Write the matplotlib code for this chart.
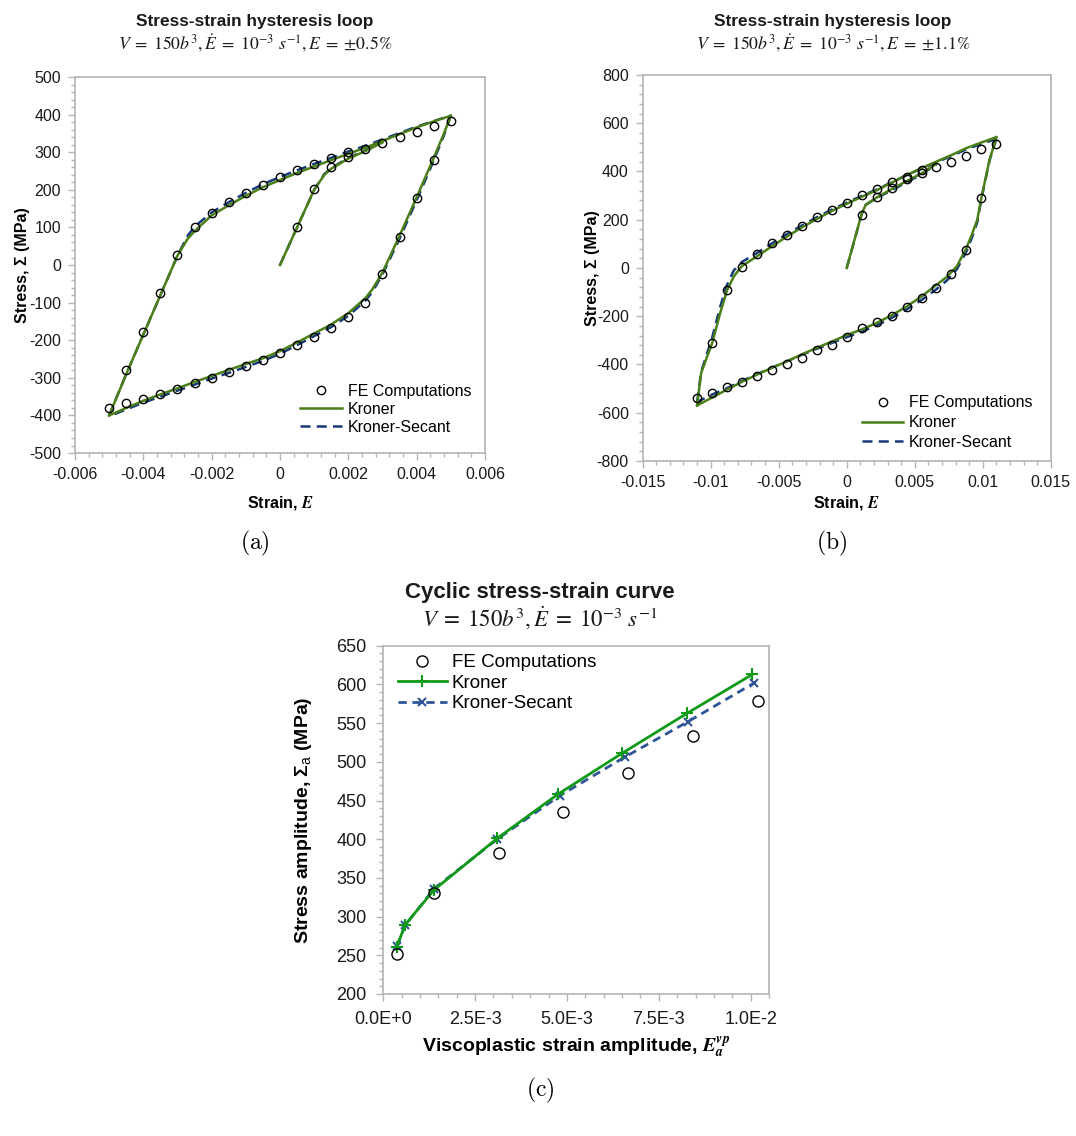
import matplotlib
matplotlib.use('Agg')
import matplotlib.pyplot as plt
from matplotlib.ticker import MultipleLocator, FuncFormatter, FixedLocator, FixedFormatter

plt.rcParams['font.family'] = ['Liberation Sans', 'DejaVu Sans']
plt.rcParams['mathtext.fontset'] = 'custom'
plt.rcParams['mathtext.rm'] = 'Liberation Sans'
plt.rcParams['mathtext.bf'] = 'Liberation Sans:bold'
plt.rcParams['mathtext.it'] = 'Liberation Sans:italic'
plt.rcParams['axes.unicode_minus'] = False

GREEN = '#4B7F17'
NAVY = '#17397A'
GREEN_C = '#119A1A'
BLUE_C = '#2E5597'
AXIS_GREY = '#B4B4B4'
TEXT = '#1A1A1A'

# Panel (a) : E = +/-0.5%
##################################################################
fe_a_mono_x = [0.0005, 0.001, 0.0015, 0.002]
fe_a_mono_y = [100, 203, 260, 287]
fe_a_down_x = [0.005, 0.0045, 0.004, 0.0035, 0.003, 0.0025, 0.002, 0.0015, 0.001, 0.0005, 0.0,
               -0.0005, -0.001, -0.0015, -0.002, -0.0025, -0.003, -0.0035, -0.004, -0.0045, -0.005]
fe_a_down_y = [382, 279, 178, 75, -25, -100, -139, -167, -191, -214, -235,
               -253, -269, -285, -300, -314, -330, -343, -356, -368, -381]
fe_a_up_x = [-0.0045, -0.004, -0.0035, -0.003, -0.0025, -0.002, -0.0015, -0.001, -0.0005, 0.0,
             0.0005, 0.001, 0.0015, 0.002, 0.0025, 0.003, 0.0035, 0.004, 0.0045]
fe_a_up_y = [-278, -177, -74, 26, 101, 139, 168, 191, 213, 233,
             253, 269, 285, 301, 308, 324, 340, 353, 370]

kr_a_mono_x = [0.0, 0.0005, 0.001, 0.0013, 0.0015, 0.002, 0.0025, 0.003]
kr_a_mono_y = [0, 100, 200, 240, 256, 283, 303, 326]
kr_a_up_x = [-0.005, -0.0045, -0.004, -0.0035, -0.003, -0.0027, -0.0025, -0.002, -0.0015, -0.001, -0.0005,
             0.0, 0.0005, 0.001, 0.0015, 0.002, 0.0025, 0.003, 0.0035, 0.004, 0.0045, 0.005]
kr_a_up_y = [-400, -290, -185, -80, 25, 70, 90, 132, 159, 184, 207,
             226, 245, 262, 279, 296, 312, 330, 348, 366, 382, 397]
kr_a_down_x = [0.005, 0.0048, 0.0045, 0.004, 0.0035, 0.003, 0.0027, 0.0025, 0.002, 0.0015, 0.001, 0.0005,
               0.0, -0.0005, -0.001, -0.0015, -0.002, -0.0025, -0.003, -0.0035, -0.004, -0.0045, -0.005]
kr_a_down_y = [397, 350, 285, 180, 78, -20, -65, -88, -128, -158, -182, -206,
               -229, -248, -263, -279, -295, -311, -328, -344, -361, -380, -400]

sec_a_mono_y = [0, 100, 200, 242, 258, 285, 305, 328]
sec_a_up_y = [-400, -290, -185, -80, 25, 78, 102, 140, 167, 192, 215,
              234, 252, 269, 285, 302, 317, 334, 351, 368, 383, 397]
sec_a_down_y = [397, 345, 278, 172, 70, -25, -72, -95, -135, -165, -189, -213,
                -236, -255, -271, -287, -302, -318, -334, -350, -366, -384, -402]

# Panel (b) : E = +/-1.1%
##################################################################
fe_b_mono_x = [0.0011, 0.0022, 0.0033, 0.0044, 0.0055]
fe_b_mono_y = [221, 294, 331, 368, 393]
fe_b_up_x = [-0.011, -0.0099, -0.0088, -0.0077, -0.0066, -0.0055, -0.0044, -0.0033, -0.0022, -0.0011, 0.0,
             0.0011, 0.0022, 0.0033, 0.0044, 0.0055, 0.0066, 0.0077, 0.0088, 0.0099, 0.011]
fe_b_up_y = [-538, -313, -93, 2, 59, 103, 138, 175, 210, 241, 270,
             301, 326, 357, 379, 407, 417, 441, 465, 493, 513]
fe_b_down_x = [0.0099, 0.0088, 0.0077, 0.0066, 0.0055, 0.0044, 0.0033, 0.0022, 0.0011, 0.0,
               -0.0011, -0.0022, -0.0033, -0.0044, -0.0055, -0.0066, -0.0077, -0.0088, -0.0099]
fe_b_down_y = [290, 73, -25, -83, -124, -163, -198, -225, -248, -286,
               -318, -342, -373, -396, -424, -449, -474, -494, -518]

kr_b_mono_x = [0.0, 0.0011, 0.0014, 0.0022, 0.0033, 0.0044, 0.0055, 0.0066]
kr_b_mono_y = [0, 225, 262, 292, 327, 360, 392, 432]
kr_b_up_x = [-0.011, -0.0107, -0.0103, -0.0099, -0.0093, -0.0088, -0.0083, -0.0077, -0.0066, -0.0055,
             -0.0044, -0.0033, -0.0022, -0.0011, 0.0, 0.0011, 0.0022, 0.0033, 0.0044, 0.0055,
             0.0066, 0.0077, 0.0088, 0.0099, 0.011]
kr_b_up_y = [-570, -435, -373, -313, -186, -93, -35, 8, 48, 90,
             130, 168, 203, 236, 266, 295, 322, 353, 385, 414,
             441, 468, 497, 520, 542]
kr_b_down_x = [0.011, 0.0105, 0.0099, 0.0096, 0.0092, 0.0088, 0.0081, 0.0074, 0.0066, 0.0055,
               0.0044, 0.0033, 0.0022, 0.0011, 0.0, -0.0011, -0.0022, -0.0033, -0.0044, -0.0055,
               -0.0066, -0.0077, -0.0088, -0.0099, -0.011]
kr_b_down_y = [542, 448, 290, 200, 138, 83, 7, -35, -70, -118,
               -160, -196, -228, -255, -278, -305, -331, -358, -387, -414,
               -442, -472, -504, -537, -570]

sec_b_mono_y = [0, 222, 262, 290, 322, 355, 388, 430]
sec_b_up_y = [-555, -430, -360, -290, -160, -70, -10, 25, 62, 102,
              140, 176, 210, 242, 271, 299, 325, 355, 385, 412,
              438, 464, 492, 514, 535]
sec_b_down_y = [535, 445, 285, 190, 125, 68, -5, -50, -88, -133,
                -172, -207, -238, -264, -287, -311, -335, -360, -387, -413,
                -440, -468, -498, -525, -555]

# Panel (c) : cyclic stress-strain curve
##################################################################
fe_c_x = [0.00037, 0.00139, 0.00314, 0.00489, 0.00665, 0.00842, 0.0102]
fe_c_y = [252, 330, 382, 435, 485, 533, 579]
kr_c_x = [0.00037, 0.00059, 0.00137, 0.0031, 0.00475, 0.0065, 0.00828, 0.01005]
kr_c_y = [261, 289, 334, 401, 458, 511, 563, 613]
sec_c_x = [0.00037, 0.0006, 0.00138, 0.0031, 0.0048, 0.00657, 0.0083, 0.0101]
sec_c_y = [262, 289, 336, 400, 456, 506, 552, 602]
c_xticks = [0.0, 0.0025, 0.005, 0.0075, 0.01]
c_xticklabels = ['0.0E+0', '2.5E-3', '5.0E-3', '7.5E-3', '1.0E-2']


def style_axes(ax, size):
    for s in ax.spines.values():
        s.set_color(AXIS_GREY)
        s.set_linewidth(1.2)
    ax.tick_params(which='both', direction='out', color=AXIS_GREY, width=1.0,
                   labelsize=size, labelcolor=TEXT)
    ax.tick_params(which='major', length=5, pad=5)
    ax.tick_params(which='minor', length=3)


def loop_panel(ax, kr, sec, fe):
    for x, y in sec:
        h_sec, = ax.plot(x, y, color=NAVY, lw=1.8, dashes=(4, 2.5), zorder=2)
    for x, y in kr:
        h_kr, = ax.plot(x, y, color=GREEN, lw=1.8, zorder=3)
    for x, y in fe:
        h_fe, = ax.plot(x, y, 'o', ms=6, mfc='none', mec='black', mew=1.0, zorder=4)
    return h_fe, h_kr, h_sec


fig = plt.figure(figsize=(10.76, 11.36), dpi=100)
ax_a = fig.add_axes([0.0697, 0.6012, 0.381, 0.331])
ax_b = fig.add_axes([0.5973, 0.5942, 0.3792, 0.3398])
ax_c = fig.add_axes([0.3562, 0.125, 0.3585, 0.3066])
fmt = FuncFormatter(lambda v, p: '{:g}'.format(round(v, 6)))

# (a)
handles = loop_panel(ax_a,
                     [(kr_a_mono_x, kr_a_mono_y), (kr_a_up_x, kr_a_up_y), (kr_a_down_x, kr_a_down_y)],
                     [(kr_a_mono_x, sec_a_mono_y), (kr_a_up_x, sec_a_up_y), (kr_a_down_x, sec_a_down_y)],
                     [(fe_a_mono_x, fe_a_mono_y), (fe_a_down_x, fe_a_down_y), (fe_a_up_x, fe_a_up_y)])
ax_a.set_xlim(-0.006, 0.006)
ax_a.set_ylim(-500, 500)
ax_a.xaxis.set_major_locator(MultipleLocator(0.002))
ax_a.xaxis.set_minor_locator(MultipleLocator(0.0004))
ax_a.yaxis.set_major_locator(MultipleLocator(100))
ax_a.yaxis.set_minor_locator(MultipleLocator(20))
ax_a.xaxis.set_major_formatter(fmt)
ax_a.yaxis.set_major_formatter(fmt)
style_axes(ax_a, 11.5)
ax_a.set_xlabel(r'Strain, $\mathbfit{E}$', fontsize=11.5, fontweight='bold', math_fontfamily='stix')
ax_a.set_ylabel('Stress, \u03a3 (MPa)', fontsize=11.5, fontweight='bold')
ax_a.xaxis.set_label_coords(0.5, -0.109)
ax_a.yaxis.set_label_coords(-0.11, 0.5)
ax_a.legend(handles, ['FE Computations', 'Kroner', 'Kroner-Secant'], loc='upper left',
            bbox_to_anchor=(0.55, 0.184), frameon=False, fontsize=11.5, handlelength=2.6,
            handletextpad=0.35, labelspacing=0.18, borderpad=0, borderaxespad=0, numpoints=1)

# (b)
handles = loop_panel(ax_b,
                     [(kr_b_mono_x, kr_b_mono_y), (kr_b_up_x, kr_b_up_y), (kr_b_down_x, kr_b_down_y)],
                     [(kr_b_mono_x, sec_b_mono_y), (kr_b_up_x, sec_b_up_y), (kr_b_down_x, sec_b_down_y)],
                     [(fe_b_mono_x, fe_b_mono_y), (fe_b_up_x, fe_b_up_y), (fe_b_down_x, fe_b_down_y)])
ax_b.set_xlim(-0.015, 0.015)
ax_b.set_ylim(-800, 800)
ax_b.xaxis.set_major_locator(MultipleLocator(0.005))
ax_b.xaxis.set_minor_locator(MultipleLocator(0.001))
ax_b.yaxis.set_major_locator(MultipleLocator(200))
ax_b.yaxis.set_minor_locator(MultipleLocator(40))
ax_b.xaxis.set_major_formatter(fmt)
ax_b.yaxis.set_major_formatter(fmt)
style_axes(ax_b, 11.5)
ax_b.set_xlabel(r'Strain, $\mathbfit{E}$', fontsize=11.5, fontweight='bold', math_fontfamily='stix')
ax_b.set_ylabel('Stress, \u03a3 (MPa)', fontsize=11.5, fontweight='bold')
ax_b.xaxis.set_label_coords(0.5, -0.0855)
ax_b.yaxis.set_label_coords(-0.105, 0.5)
ax_b.legend(handles, ['FE Computations', 'Kroner', 'Kroner-Secant'], loc='upper left',
            bbox_to_anchor=(0.537, 0.17), frameon=False, fontsize=11.5, handlelength=2.6,
            handletextpad=0.35, labelspacing=0.3, borderpad=0, borderaxespad=0, numpoints=1)

# (c)
h_fe, = ax_c.plot(fe_c_x, fe_c_y, 'o', ms=8, mfc='none', mec='black', mew=1.0, zorder=4)
h_sec, = ax_c.plot(sec_c_x, sec_c_y, color=BLUE_C, lw=2, dashes=(3, 2), marker='x',
                   ms=6, mew=1.5, zorder=2)
h_kr, = ax_c.plot(kr_c_x, kr_c_y, color=GREEN_C, lw=2, marker='+', ms=8, mew=1.5, zorder=3)
ax_c.set_xlim(0, 0.0105)
ax_c.set_ylim(200, 650)
ax_c.xaxis.set_major_locator(FixedLocator(c_xticks))
ax_c.xaxis.set_major_formatter(FixedFormatter(c_xticklabels))
ax_c.xaxis.set_minor_locator(MultipleLocator(0.0005))
ax_c.yaxis.set_major_locator(MultipleLocator(50))
ax_c.yaxis.set_minor_locator(MultipleLocator(10))
style_axes(ax_c, 13)
ax_c.tick_params(which='major', pad=7)
ax_c.set_xlabel(r'Viscoplastic strain amplitude, $\mathbfit{E}_{\mathbfit{a}}^{\mathbfit{vp}}$',
                fontsize=14, fontweight='bold', math_fontfamily='stix')
ax_c.set_ylabel(r'Stress amplitude, $\mathbf{\Sigma}_{\mathrm{a}}$ (MPa)', fontsize=14, fontweight='bold')
ax_c.xaxis.set_label_coords(0.5, -0.12)
ax_c.yaxis.set_label_coords(-0.18, 0.5)
ax_c.legend([h_fe, h_kr, h_sec], ['FE Computations', 'Kroner', 'Kroner-Secant'], loc='upper left',
            bbox_to_anchor=(0.038, 0.976), frameon=False, fontsize=13.5, handlelength=2.6,
            handletextpad=0.27, labelspacing=0.18, borderpad=0, borderaxespad=0, numpoints=1)

# Titles and panel labels
#####################################################
sub_a = r'$V\;=\;150b^3,\dot{E}\;=\;10^{-3}\ s^{-1},E\;=\;{\pm}0.5\%$'
sub_b = r'$V\;=\;150b^3,\dot{E}\;=\;10^{-3}\ s^{-1},E\;=\;{\pm}1.1\%$'
sub_c = r'$V\;=\;150b^3,\dot{E}\;=\;10^{-3}\ s^{-1}$'
fig.text(0.237, 0.9815, 'Stress-strain hysteresis loop', ha='center', va='center',
         fontsize=12.4, fontweight='bold', color=TEXT)
fig.text(0.237, 0.962, sub_a, ha='center', va='center', fontsize=12.8, math_fontfamily='stix', color=TEXT)
fig.text(0.774, 0.9815, 'Stress-strain hysteresis loop', ha='center', va='center',
         fontsize=12.4, fontweight='bold', color=TEXT)
fig.text(0.774, 0.962, sub_b, ha='center', va='center', fontsize=12.8, math_fontfamily='stix', color=TEXT)
fig.text(0.502, 0.478, 'Cyclic stress-strain curve', ha='center', va='center',
         fontsize=16, fontweight='bold', color=TEXT)
fig.text(0.502, 0.456, sub_c, ha='center', va='center', fontsize=16.5, math_fontfamily='stix', color=TEXT)

fig.text(0.237, 0.522, r'$\mathrm{(a)}$', ha='center', va='center', fontsize=17, math_fontfamily='cm')
fig.text(0.773, 0.522, r'$\mathrm{(b)}$', ha='center', va='center', fontsize=17, math_fontfamily='cm')
fig.text(0.502, 0.04, r'$\mathrm{(c)}$', ha='center', va='center', fontsize=17, math_fontfamily='cm')

plt.savefig('out.png', dpi=100)
